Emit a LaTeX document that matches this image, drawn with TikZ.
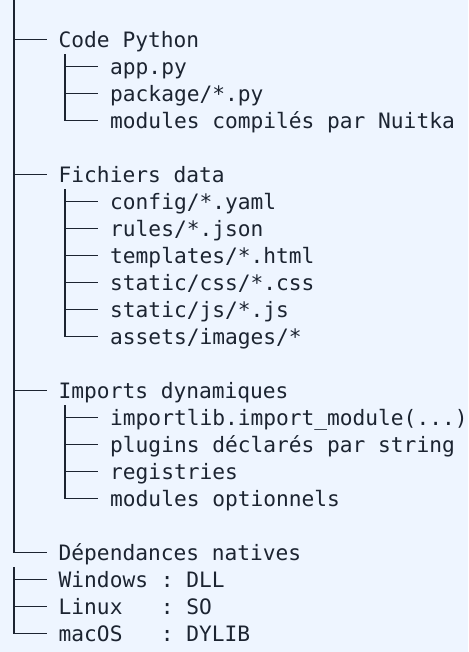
\documentclass[tikz,border=0pt]{standalone}
\usepackage{fontspec}
\setmonofont{DejaVu Sans Mono}
\definecolor{bgblue}{HTML}{EEF5FF}
\definecolor{inkgray}{HTML}{1C2431}
\tikzset{
    leaf/.style={anchor=west, inner sep=0pt,
        text height=20pt, text depth=4pt, text=inkgray,
        font=\ttfamily\fontsize{21.2}{27}\selectfont},
    branch/.style={draw=inkgray, line width=1.9pt}
}
\newcommand\twig[2]{
        \draw[branch] (#1) |- ([xshift=-12pt]#2.west);
}

\begin{document}
\begin{tikzpicture}[x=1pt,y=-1pt]

    %draws background:
    \fill[bgblue] (0,0) rectangle (468,652);
    \useasboundingbox (0,0) rectangle (468,652);

    %draws top level nodes:
    \coordinate (root) at (13.6,0);
    \node[leaf] (python)  at (58.5, 39.5)  {Code Python};
    \node[leaf] (data)    at (58.5,174.5)  {Fichiers data};
    \node[leaf] (imports) at (58.5,390.5)  {Imports dynamiques};
    \node[leaf] (natives) at (58.5,552.5)  {Dépendances natives};

    %draws python files:
    \coordinate (pytop) at (65,54.2);
    \node[leaf] (app)     at (110, 66.5)  {app.py};
    \node[leaf] (package) at (110, 93.5)  {package/*.py};
    \node[leaf] (nuitka)  at (110,120.5)  {modules compilés par Nuitka};

    %draws data files:
    \coordinate (datatop) at (65,189.2);
    \node[leaf] (config)    at (110,201.5) {config/*.yaml};
    \node[leaf] (rules)     at (110,228.5) {rules/*.json};
    \node[leaf] (templates) at (110,255.5) {templates/*.html};
    \node[leaf] (css)       at (110,282.5) {static/css/*.css};
    \node[leaf] (js)        at (110,309.5) {static/js/*.js};
    \node[leaf] (images)    at (110,336.5) {assets/images/*};

    %draws dynamic imports:
    \coordinate (imptop) at (65,405.2);
    \node[leaf] (importlib)  at (110,417.5) {importlib.import\_module(...)};
    \node[leaf] (plugins)    at (110,444.5) {plugins déclarés par string};
    \node[leaf] (registries) at (110,471.5) {registries};
    \node[leaf] (optional)   at (110,498.5) {modules optionnels};

    %draws native libraries:
    \coordinate (ostop) at (13.6,567.2);
    \node[leaf] (windows) at (58.5,579.5) {Windows~: DLL};
    \node[leaf] (linux)   at (58.5,606.5) {Linux~~~: SO};
    \node[leaf] (macos)   at (58.5,633.5) {macOS~~~: DYLIB};

    \twig{root}{python}
    \twig{root}{data}
    \twig{root}{imports}
    \twig{root}{natives}

    \twig{pytop}{app}
    \twig{pytop}{package}
    \twig{pytop}{nuitka}

    \twig{datatop}{config}
    \twig{datatop}{rules}
    \twig{datatop}{templates}
    \twig{datatop}{css}
    \twig{datatop}{js}
    \twig{datatop}{images}

    \twig{imptop}{importlib}
    \twig{imptop}{plugins}
    \twig{imptop}{registries}
    \twig{imptop}{optional}

    \twig{ostop}{windows}
    \twig{ostop}{linux}
    \twig{ostop}{macos}

\end{tikzpicture}
\end{document}
